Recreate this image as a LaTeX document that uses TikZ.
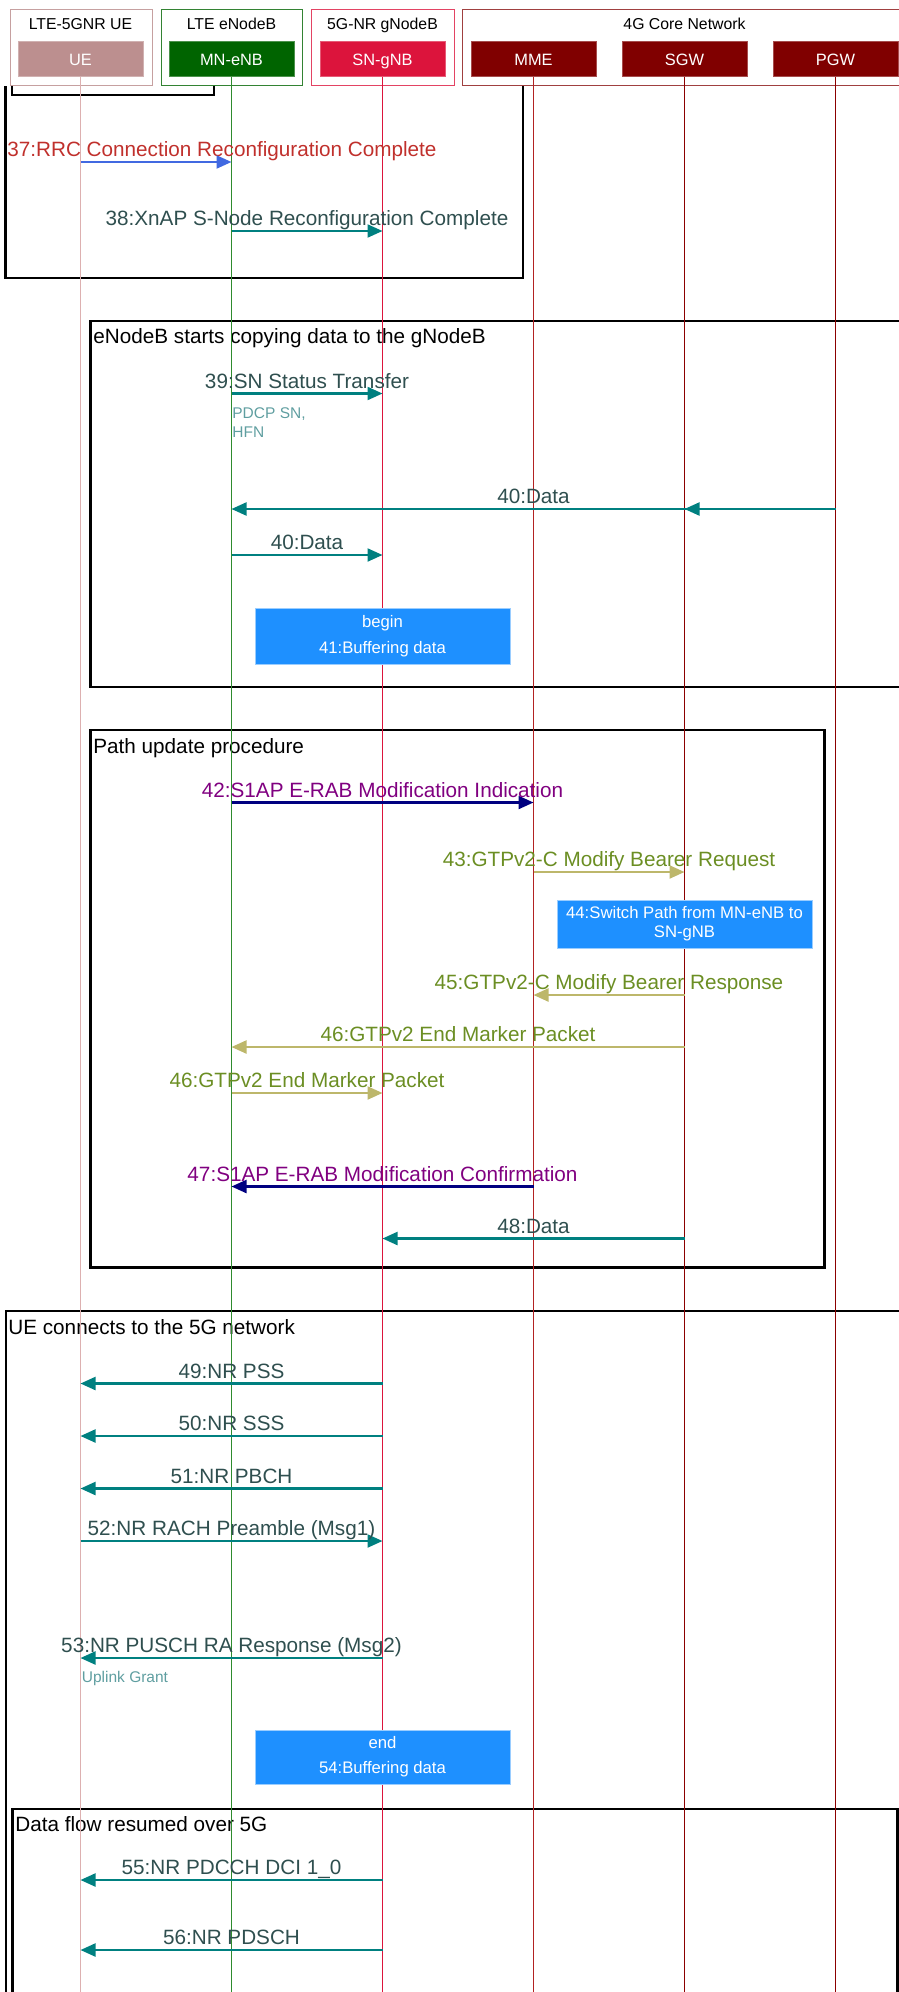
\documentclass[tikz,border=0pt]{standalone}
\usepackage{fontspec}
\setmainfont{Liberation Sans}
\usetikzlibrary{arrows.meta}

\definecolor{uefill}{HTML}{BC8F8F}
\definecolor{enbfill}{HTML}{006400}
\definecolor{gnbfill}{HTML}{DC143C}
\definecolor{corefill}{HTML}{800000}
\definecolor{ueline}{HTML}{DDB0B0}
\definecolor{enbline}{HTML}{2E8B2E}
\definecolor{gnbline}{HTML}{DC143C}
\definecolor{mmeline}{HTML}{B22222}
\definecolor{coreline}{HTML}{8B0000}
\definecolor{msgslate}{HTML}{2F4F4F}
\definecolor{msgteal}{HTML}{008080}
\definecolor{rrcred}{HTML}{C0302C}
\definecolor{rrcblue}{HTML}{4169E1}
\definecolor{s1purple}{HTML}{800080}
\definecolor{s1navy}{HTML}{000080}
\definecolor{gtpolive}{HTML}{6B8E23}
\definecolor{gtpkhaki}{HTML}{BDB76B}
\definecolor{notetext}{HTML}{5F9EA0}
\definecolor{bufblue}{HTML}{1E90FF}

\tikzstyle{frame} = [draw=black,line width=1.2pt]
\tikzstyle{frametitle} = [anchor=base west,inner sep=0pt,font=\fontsize{10.35pt}{12pt}\selectfont]
\tikzstyle{groupbox} = [anchor=north west,fill=white,line width=0.6pt,minimum height=38pt,inner sep=0pt]
\tikzstyle{grouptitle} = [anchor=base,inner sep=0pt,font=\fontsize{7.9pt}{9pt}\selectfont]
\tikzstyle{actorbox} = [minimum width=62.5pt,minimum height=17.15pt,inner sep=0pt,line width=0.5pt,text=white,text height=7pt,text depth=0.3pt,font=\fontsize{8.2pt}{9pt}\selectfont]
\tikzstyle{lifeline} = [line width=0.5pt]
\tikzstyle{msgarrow} = [line width=1.1pt,draw=msgteal,-{Triangle[length=7.5pt,width=6.5pt]}]
\tikzstyle{msglabel} = [anchor=base,yshift=2.75pt,inner sep=0pt,text=msgslate,font=\fontsize{10.35pt}{12pt}\selectfont]
\tikzstyle{notelabel} = [inner sep=0pt,text=notetext,align=left,font=\fontsize{7.75pt}{9.65pt}\selectfont]
\tikzstyle{bufbox} = [fill=bufblue,draw=bufblue!45!white,line width=0.5pt,text=white,align=center,minimum width=127.5pt,inner sep=0pt]

\begin{document}
\begin{tikzpicture}[x=0.5pt,y=-0.5pt]
  \useasboundingbox (0,0) rectangle (899,1992);
  \clip (0,0) rectangle (899,1992);
  \coordinate (bottom) at (0,1992);

  \draw[frame] (5.5,40) rectangle (522.7,277.7);
  \draw[frame] (12,40) rectangle (214,95);
  \draw[frame] (90.6,321) rectangle (910,687);
  \node[frametitle] (title39) at (93,343.5) {eNodeB starts copying data to the gNodeB};
  \draw[frame] (90.6,730) rectangle (824.5,1267.5);
  \node[frametitle] (title42) at (93,753) {Path update procedure};
  \draw[frame] (5.7,1311) rectangle (910,2010);
  \node[frametitle] (title49) at (8,1334) {UE connects to the 5G network};
  \draw[frame] (12.6,1809) rectangle (897.4,2010);
  \node[frametitle] (title55) at (15,1831) {Data flow resumed over 5G};

  \fill[white] (0,0) rectangle (899,85.5);

  \node[groupbox,draw=uefill!85!white,minimum width=70.85pt] (uegroup) at (10,9) {};
  \node[grouptitle] (uetitle) at (80.5,29.5) {LTE-5GNR UE};
  \node[groupbox,draw=enbfill!80!white,minimum width=70.65pt] (enbgroup) at (160.7,9) {};
  \node[grouptitle] (enbtitle) at (231.5,29.5) {LTE eNodeB};
  \node[groupbox,draw=gnbfill!80!white,minimum width=71.25pt] (gnbgroup) at (311,9) {};
  \node[grouptitle] (gnbtitle) at (382.5,29.5) {5G-NR gNodeB};
  \node[groupbox,draw=corefill!75!white,minimum width=222pt] (coregroup) at (462,9) {};
  \node[grouptitle] (coretitle) at (684.5,29.5) {4G Core Network};

  \node[actorbox,fill=uefill,draw=uefill!70!white] (ue) at (80.5,59) {UE};
  \node[actorbox,fill=enbfill,draw=enbfill!70!white] (enb) at (231.5,59) {MN-eNB};
  \node[actorbox,fill=gnbfill,draw=gnbfill!70!white] (gnb) at (382.5,59) {SN-gNB};
  \node[actorbox,fill=corefill,draw=corefill!70!white] (mme) at (533.5,59) {MME};
  \node[actorbox,fill=corefill,draw=corefill!70!white] (sgw) at (684.5,59) {SGW};
  \node[actorbox,fill=corefill,draw=corefill!70!white] (pgw) at (835.5,59) {PGW};

  \draw[lifeline,draw=ueline] (ue.south) -- (ue |- bottom);
  \draw[lifeline,draw=enbline] (enb.south) -- (enb |- bottom);
  \draw[lifeline,draw=gnbline] (gnb.south) -- (gnb |- bottom);
  \draw[lifeline,draw=mmeline] (mme.south) -- (mme |- bottom);
  \draw[lifeline,draw=coreline] (sgw.south) -- (sgw |- bottom);
  \draw[lifeline,draw=coreline] (pgw.south) -- (pgw |- bottom);

  \coordinate (r37) at (0,162);
  \coordinate (r38) at (0,231);
  \coordinate (r39) at (0,393.5);
  \coordinate (r40a) at (0,509);
  \coordinate (r40b) at (0,555);
  \coordinate (r42) at (0,802.5);
  \coordinate (r43) at (0,872);
  \coordinate (r45) at (0,995);
  \coordinate (r46a) at (0,1047);
  \coordinate (r46b) at (0,1093);
  \coordinate (r47) at (0,1186.5);
  \coordinate (r48) at (0,1238.5);
  \coordinate (r49) at (0,1383.5);
  \coordinate (r50) at (0,1436);
  \coordinate (r51) at (0,1488.5);
  \coordinate (r52) at (0,1541);
  \coordinate (r53) at (0,1658);
  \coordinate (r55) at (0,1880);
  \coordinate (r56) at (0,1950);

  \node[msglabel,anchor=base west,text=rrcred] (t37) at (7,162) {37:RRC Connection Reconfiguration Complete};
  \draw[msgarrow,draw=rrcblue] (ue |- r37) -- (enb |- r37);
  \draw[msgarrow] (enb |- r38) -- node[msglabel] (t38) {38:XnAP S-Node Reconfiguration Complete} (gnb |- r38);

  \draw[msgarrow] (enb |- r39) -- node[msglabel] (t39) {39:SN Status Transfer} (gnb |- r39);
  \node[notelabel,anchor=north west] (n39) at (232,407) {PDCP SN,\\HFN};
  \draw[msgarrow] (pgw |- r40a) -- node[msglabel] (t40a) {40:Data} (enb |- r40a);
  \draw[msgarrow] (pgw |- r40a) -- (sgw |- r40a);
  \draw[msgarrow] (enb |- r40b) -- node[msglabel] (t40b) {40:Data} (gnb |- r40b);
  \node[bufbox,minimum height=28pt,font=\fontsize{8.35pt}{13.3pt}\selectfont] (buf41) at (382.5,636) {begin\\41:Buffering data};

  \draw[msgarrow,draw=s1navy] (enb |- r42) -- node[msglabel,text=s1purple] (t42) {42:S1AP E-RAB Modification Indication} (mme |- r42);
  \draw[msgarrow,draw=gtpkhaki] (mme |- r43) -- node[msglabel,text=gtpolive] (t43) {43:GTPv2-C Modify Bearer Request} (sgw |- r43);
  \node[bufbox,minimum height=24pt,font=\fontsize{8.35pt}{9.5pt}\selectfont] (sw44) at (684.5,924) {44:Switch Path from MN-eNB to\\SN-gNB};
  \draw[msgarrow,draw=gtpkhaki] (sgw |- r45) -- node[msglabel,text=gtpolive] (t45) {45:GTPv2-C Modify Bearer Response} (mme |- r45);
  \draw[msgarrow,draw=gtpkhaki] (sgw |- r46a) -- node[msglabel,text=gtpolive] (t46a) {46:GTPv2 End Marker Packet} (enb |- r46a);
  \draw[msgarrow,draw=gtpkhaki] (enb |- r46b) -- node[msglabel,text=gtpolive] (t46b) {46:GTPv2 End Marker Packet} (gnb |- r46b);
  \draw[msgarrow,draw=s1navy] (mme |- r47) -- node[msglabel,text=s1purple] (t47) {47:S1AP E-RAB Modification Confirmation} (enb |- r47);
  \draw[msgarrow] (sgw |- r48) -- node[msglabel] (t48) {48:Data} (gnb |- r48);

  \draw[msgarrow] (gnb |- r49) -- node[msglabel] (t49) {49:NR PSS} (ue |- r49);
  \draw[msgarrow] (gnb |- r50) -- node[msglabel] (t50) {50:NR SSS} (ue |- r50);
  \draw[msgarrow] (gnb |- r51) -- node[msglabel] (t51) {51:NR PBCH} (ue |- r51);
  \draw[msgarrow] (ue |- r52) -- node[msglabel] (t52) {52:NR RACH Preamble (Msg1)} (gnb |- r52);
  \draw[msgarrow] (gnb |- r53) -- node[msglabel] (t53) {53:NR PUSCH RA Response (Msg2)} (ue |- r53);
  \node[notelabel,anchor=base west] (n53) at (81.5,1682.5) {Uplink Grant};
  \node[bufbox,minimum height=27pt,font=\fontsize{8.35pt}{12.5pt}\selectfont] (buf54) at (382.5,1757) {end\\54:Buffering data};

  \draw[msgarrow] (gnb |- r55) -- node[msglabel] (t55) {55:NR PDCCH DCI 1\_0} (ue |- r55);
  \draw[msgarrow] (gnb |- r56) -- node[msglabel] (t56) {56:NR PDSCH} (ue |- r56);
\end{tikzpicture}
\end{document}
